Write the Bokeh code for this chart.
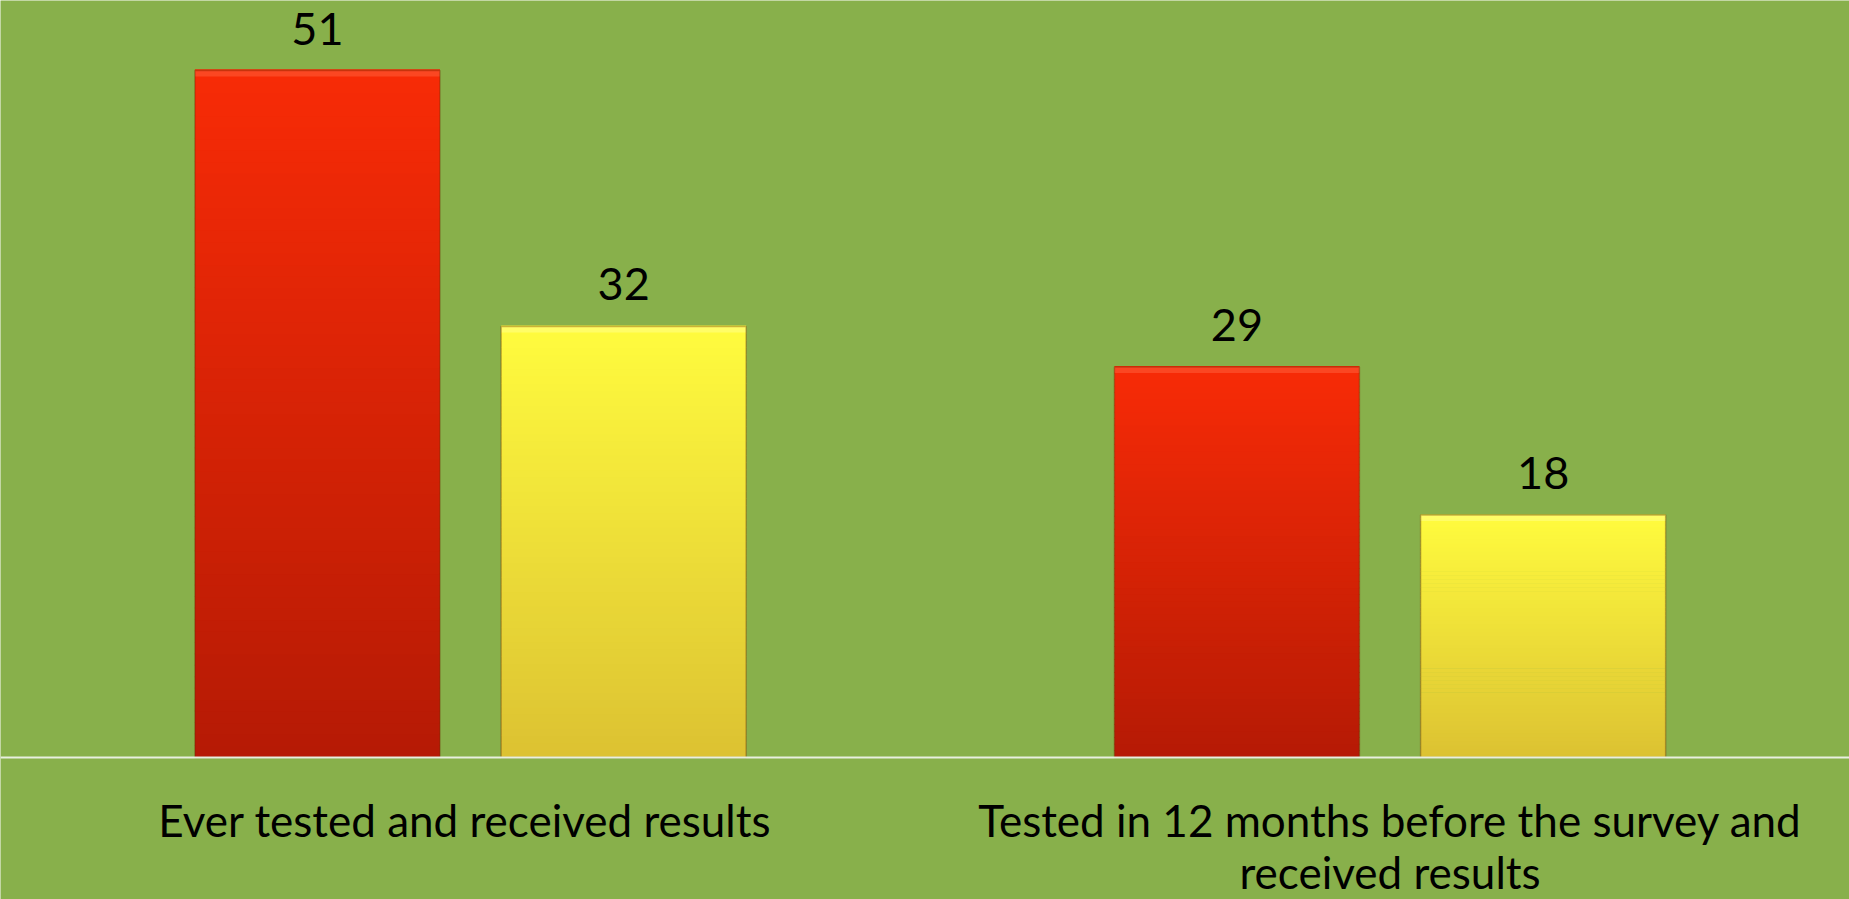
from bokeh.plotting import figure
from bokeh.models import Range1d, Span, ColumnDataSource
from bokeh.core.properties import value
from bokeh.embed import file_html
from bokeh.resources import INLINE

# ---- data ----
categories = ["Ever tested  and received results",
              "Tested in 12 months before the survey and\nreceived results"]
series_names = ["Series A", "Series B"]
series_a = [51, 29]   # red bars
series_b = [32, 18]   # yellow bars

# ---- style ----
BG = "#88b04b"
RED_TOP, RED_BOT = "#f82b06", "#b51a05"
YEL_TOP, YEL_BOT = "#fffb3e", "#dcc232"
RED_HI, YEL_HI = "#ff6a45", "#ffff9a"
FONT = "Lato"

W, H = 1849, 899
Y_TOP, Y_BOT = 56.20, -10.54
PX_PER_UNIT = H / (Y_TOP - Y_BOT)
p = figure(width=W, height=H, output_backend="svg", toolbar_location=None,
           x_axis_type=None, y_axis_type=None,
           x_range=Range1d(-0.0112, 1.9997), y_range=Range1d(Y_BOT, Y_TOP),
           min_border=0)
p.background_fill_color = BG
p.border_fill_color = BG
p.outline_line_color = None


def hex2rgb(h):
    h = h.lstrip("#")
    return tuple(int(h[i:i + 2], 16) for i in (0, 2, 4))


def mix(c1, c2, t):
    a, b = hex2rgb(c1), hex2rgb(c2)
    return "#%02x%02x%02x" % tuple(int(round(a[i] + (b[i] - a[i]) * t)) for i in range(3))


BAR_W = 0.2665
OFFSET = 0.1665
N = 60
BEVEL = 6 / PX_PER_UNIT

xs, bottoms, tops, colors = [], [], [], []
centers, vals, labels, hi_cols = [], [], [], []
for i, cat in enumerate(categories):
    for vals_s, off, ctop, cbot, chi in ((series_a, -OFFSET, RED_TOP, RED_BOT, RED_HI),
                                          (series_b, OFFSET, YEL_TOP, YEL_BOT, YEL_HI)):
        v = vals_s[i]
        xc = i + 0.5 + off
        centers.append(xc)
        vals.append(v)
        labels.append(str(v))
        hi_cols.append(chi)
        for k in range(N):
            b = v * k / N
            t = v * (k + 1) / N
            xs.append(xc)
            bottoms.append(b)
            tops.append(t + v * 0.002)
            frac = 1 - (k + 0.5) / N  # 0 top, 1 bottom
            colors.append(mix(ctop, cbot, frac))

band_src = ColumnDataSource(dict(x=xs, bottom=bottoms, top=tops, color=colors))
p.vbar(x="x", bottom="bottom", top="top", width=BAR_W, fill_color="color",
       line_color=None, source=band_src)

# top bevel highlight
hi_src = ColumnDataSource(dict(x=centers, top=vals,
                               bottom=[v - BEVEL for v in vals], color=hi_cols))
p.vbar(x="x", top="top", bottom="bottom", width=BAR_W, fill_color="color",
       fill_alpha=0.45, line_color=None, source=hi_src)

# outline
out_src = ColumnDataSource(dict(x=centers, top=vals))
p.vbar(x="x", top="top", bottom=0, width=BAR_W, fill_color=None,
       line_color="#6a2a00", line_alpha=0.35, line_width=1.5, source=out_src)

# baseline
p.add_layout(Span(location=0, dimension="width", line_color="#e8efe0",
                  line_width=2, level="overlay"))

# value labels
lbl_src = ColumnDataSource(dict(x=centers, y=vals, t=labels))
p.text(x="x", y="y", text="t", source=lbl_src, text_align="center",
       text_baseline="alphabetic", y_offset=-42,
       text_font=value(FONT), text_font_size="45px", text_color="#000000")

# category labels (split lines)
cx, cy, ct, coff = [], [], [], []
for i, cat in enumerate(categories):
    for j, line in enumerate(cat.split("\n")):
        cx.append(i + 0.5)
        cy.append(0)
        ct.append(line)
        coff.append(62 + 52 * j)
cat_src = ColumnDataSource(dict(x=cx, y=cy, t=ct, off=coff))
p.text(x="x", y="y", text="t", y_offset="off", source=cat_src,
       text_align="center", text_baseline="alphabetic",
       text_font=value(FONT), text_font_size="44px", text_color="#000000")

open("out.html", "w").write(file_html(p, INLINE))
